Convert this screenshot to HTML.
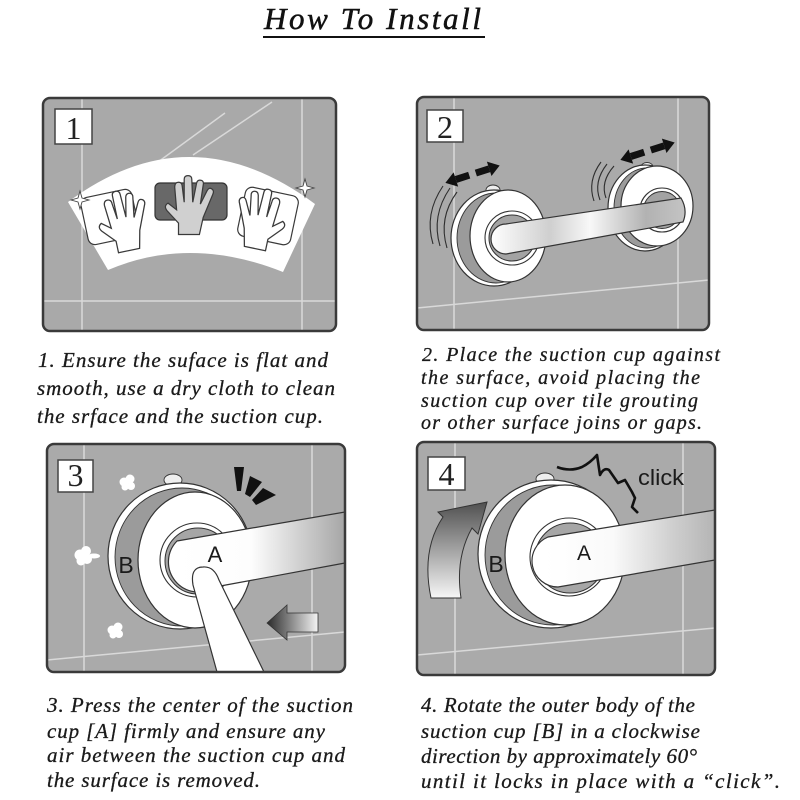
<!DOCTYPE html>
<html><head><meta charset="utf-8">
<style>
html,body{margin:0;padding:0;background:#fff;width:800px;height:800px;overflow:hidden}
svg{display:block}
.t{font-family:"Liberation Serif",serif;font-style:italic;font-size:21px;fill:#1a1a1a;stroke:#1a1a1a;stroke-width:0.3}
.t2{font-size:20px}
.n{font-family:"Liberation Serif",serif;font-size:32px;fill:#222;text-anchor:middle}
.s{font-family:"Liberation Sans",sans-serif;fill:#1a1a1a;text-anchor:middle}
</style></head><body>
<svg width="800" height="800" viewBox="0 0 800 800" xmlns="http://www.w3.org/2000/svg">
<defs>
<clipPath id="c1"><rect x="43" y="98" width="293" height="233" rx="7"/></clipPath>
<clipPath id="c2"><rect x="417" y="97" width="292" height="233" rx="7"/></clipPath>
<clipPath id="c3"><rect x="47" y="444" width="298" height="228" rx="7"/></clipPath>
<clipPath id="c4"><rect x="417" y="442" width="298" height="233" rx="7"/></clipPath>
<linearGradient id="g2" gradientUnits="userSpaceOnUse" x1="490" y1="0" x2="690" y2="0">
<stop offset="0" stop-color="#fff"/><stop offset=".3" stop-color="#cfcfcf"/><stop offset=".5" stop-color="#f8f8f8"/><stop offset=".78" stop-color="#b2b2b2"/><stop offset="1" stop-color="#c6c6c6"/></linearGradient>
<linearGradient id="g3" gradientUnits="userSpaceOnUse" x1="175" y1="0" x2="345" y2="0">
<stop offset="0" stop-color="#fff"/><stop offset=".45" stop-color="#fdfdfd"/><stop offset="1" stop-color="#a6a6a6"/></linearGradient>
<linearGradient id="g4" gradientUnits="userSpaceOnUse" x1="545" y1="0" x2="715" y2="0">
<stop offset="0" stop-color="#fff"/><stop offset=".4" stop-color="#fafafa"/><stop offset=".75" stop-color="#cfcfcf"/><stop offset="1" stop-color="#b4b4b4"/></linearGradient>
<linearGradient id="ga3" gradientUnits="userSpaceOnUse" x1="267" y1="0" x2="318" y2="0">
<stop offset="0" stop-color="#2a2a2a"/><stop offset="1" stop-color="#f4f4f4"/></linearGradient>
<linearGradient id="ga4" gradientUnits="userSpaceOnUse" x1="0" y1="502" x2="0" y2="598">
<stop offset="0" stop-color="#505050"/><stop offset="1" stop-color="#f6f6f6"/></linearGradient>
</defs>
<rect width="800" height="800" fill="#fff"/>

<!-- Title -->
<text x="264" y="29" font-family="Liberation Serif, serif" font-style="italic" font-size="31" fill="#111" stroke="#111" stroke-width="0.5" textLength="217" lengthAdjust="spacing">How To Install</text>
<line x1="263" y1="37" x2="485" y2="37" stroke="#111" stroke-width="2"/>

<!-- PANEL 1 -->
<g clip-path="url(#c1)">
<rect x="43" y="98" width="293" height="233" fill="#a9a9a9"/>
<g stroke="#d9d9d9" stroke-width="1.5">
<line x1="82" y1="98" x2="82" y2="331"/><line x1="302" y1="98" x2="302" y2="331"/>
<line x1="43" y1="301" x2="336" y2="301"/>
<line x1="158" y1="162" x2="225" y2="113"/><line x1="193" y1="155" x2="272" y2="102"/>
</g>
<path d="M68,202 Q190,111 315,204 L283,272 Q190,235 108,270 Z" fill="#fff"/>
<rect x="84" y="193" width="52" height="48" rx="7" fill="#fff" stroke="#3a3a3a" stroke-width="1.2" transform="rotate(-12 110 217)"/>
<path transform="translate(122,222) rotate(-12) scale(0.98)" fill="#fff" stroke="#3a3a3a" stroke-width="1.3" d="M-10,30 L-10,18 L-22,5 Q-26,0 -21,-3 L-12,4 L-14,-20 Q-14,-25 -10,-25 Q-6,-25 -6,-20 L-4,-4 L-4,-28 Q-4,-32 0,-32 Q4,-32 4,-28 L5,-4 L9,-24 Q10,-28 14,-27 Q17,-26 16,-22 L13,-2 L20,-16 Q22,-20 25,-18 Q28,-16 26,-12 L16,12 L12,30 Z"/>
<rect x="155" y="183" width="72" height="37" rx="5" fill="#686868" stroke="#333" stroke-width="1.2"/>
<path transform="translate(188,206) scale(0.95)" fill="#d0d0d0" stroke="#3a3a3a" stroke-width="1.3" d="M-10,30 L-10,18 L-22,5 Q-26,0 -21,-3 L-12,4 L-14,-20 Q-14,-25 -10,-25 Q-6,-25 -6,-20 L-4,-4 L-4,-28 Q-4,-32 0,-32 Q4,-32 4,-28 L5,-4 L9,-24 Q10,-28 14,-27 Q17,-26 16,-22 L13,-2 L20,-16 Q22,-20 25,-18 Q28,-16 26,-12 L16,12 L12,30 Z"/>
<rect x="241" y="191" width="54" height="50" rx="7" fill="#fff" stroke="#3a3a3a" stroke-width="1.2" transform="rotate(12 268 216)"/>
<path transform="translate(262,220) rotate(12) scale(-0.98,0.98)" fill="#fff" stroke="#3a3a3a" stroke-width="1.3" d="M-10,30 L-10,18 L-22,5 Q-26,0 -21,-3 L-12,4 L-14,-20 Q-14,-25 -10,-25 Q-6,-25 -6,-20 L-4,-4 L-4,-28 Q-4,-32 0,-32 Q4,-32 4,-28 L5,-4 L9,-24 Q10,-28 14,-27 Q17,-26 16,-22 L13,-2 L20,-16 Q22,-20 25,-18 Q28,-16 26,-12 L16,12 L12,30 Z"/>
<path transform="translate(80,200)" fill="#fff" stroke="#444" stroke-width="0.9" d="M0,-9 L2,-2 L9,0 L2,2 L0,9 L-2,2 L-9,0 L-2,-2 Z"/>
<path transform="translate(305,188)" fill="#fff" stroke="#444" stroke-width="0.9" d="M0,-9 L2,-2 L9,0 L2,2 L0,9 L-2,2 L-9,0 L-2,-2 Z"/>
</g>
<rect x="43" y="98" width="293" height="233" rx="7" fill="none" stroke="#3a3a3a" stroke-width="2.5"/>
<rect x="55" y="109" width="37" height="35" fill="#fff" stroke="#444" stroke-width="1.5"/>
<text class="n" x="73.5" y="139">1</text>

<!-- PANEL 2 -->
<g clip-path="url(#c2)">
<rect x="417" y="97" width="292" height="233" fill="#aaaaaa"/>
<g stroke="#d9d9d9" stroke-width="1.5">
<line x1="454" y1="97" x2="454" y2="330"/><line x1="678" y1="97" x2="678" y2="330"/>
<line x1="417" y1="308" x2="709" y2="280"/>
</g>
<g fill="none" stroke="#2e2e2e" stroke-width="1.1">
<path d="M447,248 Q438,218 457,192"/><path d="M440,246 Q431,216 450,188"/><path d="M433,244 Q424,214 443,186"/>
<path d="M606,198 Q600,182 614,166"/><path d="M600,200 Q593,182 607,164"/><path d="M594,201 Q587,181 601,162"/>
</g>
<ellipse cx="493" cy="190" rx="7" ry="5" fill="#eee" stroke="#333" stroke-width="0.9"/>
<ellipse cx="494" cy="238" rx="43" ry="48" fill="#fff" stroke="#333" stroke-width="1.2"/>
<ellipse cx="496" cy="238" rx="39" ry="45" fill="#9b9b9b" stroke="#333" stroke-width="0.9"/>
<ellipse cx="508" cy="236" rx="38" ry="46" fill="#fff" stroke="#333" stroke-width="1.2"/>
<circle cx="512" cy="238" r="27" fill="#fff" stroke="#333" stroke-width="1.1"/>
<circle cx="512" cy="238" r="23" fill="#a3a3a3" stroke="#333" stroke-width="1"/>
<ellipse cx="647" cy="167" rx="6" ry="4.5" fill="#eee" stroke="#333" stroke-width="0.9"/>
<ellipse cx="645" cy="208" rx="37" ry="43" fill="#fff" stroke="#333" stroke-width="1.2"/>
<ellipse cx="647" cy="208" rx="33" ry="40" fill="#9b9b9b" stroke="#333" stroke-width="0.9"/>
<ellipse cx="657" cy="206" rx="36" ry="40" fill="#fff" stroke="#333" stroke-width="1.2"/>
<circle cx="662" cy="210" r="22" fill="#fff" stroke="#333" stroke-width="1.1"/>
<circle cx="662" cy="210" r="18.5" fill="#a3a3a3" stroke="#333" stroke-width="1"/>
<path d="M506,224 L681,198 Q688,210 683,222 L506,254 A15,15 0 0 1 506,224 Z" fill="url(#g2)" stroke="#333" stroke-width="1.2"/>
<g transform="translate(473,174) rotate(-17.8)" fill="#111">
<polygon points="-29,0 -18,-7.5 -18,7.5"/><rect x="-18" y="-3.5" width="14" height="7"/>
<rect x="3" y="-3.5" width="14" height="7"/><polygon points="17,-7.5 28,0 17,7.5"/>
</g>
<g transform="translate(648,151) rotate(-17.8)" fill="#111">
<polygon points="-29,0 -18,-7.5 -18,7.5"/><rect x="-18" y="-3.5" width="14" height="7"/>
<rect x="3" y="-3.5" width="14" height="7"/><polygon points="17,-7.5 28,0 17,7.5"/>
</g>
</g>
<rect x="417" y="97" width="292" height="233" rx="7" fill="none" stroke="#3a3a3a" stroke-width="2.5"/>
<rect x="427" y="110" width="36" height="32" fill="#fff" stroke="#444" stroke-width="1.5"/>
<text class="n" x="445" y="138">2</text>

<!-- PANEL 3 -->
<g clip-path="url(#c3)">
<rect x="47" y="444" width="298" height="228" fill="#aaaaaa"/>
<g stroke="#d9d9d9" stroke-width="1.5">
<line x1="84" y1="444" x2="84" y2="672"/><line x1="312" y1="444" x2="312" y2="672"/>
<line x1="47" y1="660" x2="345" y2="632"/>
</g>
<g fill="#fff">
<g transform="translate(127,482)"><circle cx="-3" cy="0" r="4.5"/><circle cx="3" cy="-3" r="4.5"/><circle cx="4" cy="4" r="4"/><circle cx="-2" cy="5" r="3.5"/></g>
<g transform="translate(83,555)"><circle cx="-3" cy="0" r="5.5"/><circle cx="3" cy="-4" r="5"/><circle cx="4" cy="4" r="5"/><circle cx="-2" cy="6" r="4.5"/><ellipse cx="11" cy="1" rx="6" ry="2.5"/></g>
<g transform="translate(115,630)"><circle cx="-3" cy="0" r="4.5"/><circle cx="3" cy="-3" r="4.5"/><circle cx="4" cy="4" r="4"/><circle cx="-2" cy="5" r="3.5"/></g>
</g>
<g fill="#111">
<polygon points="234,467 244,467 241,491 237,491"/>
<polygon points="250,476 262,482 250,497 245,494"/>
<polygon points="263,488 276,495 256,505 252,500"/>
</g>
<ellipse cx="173" cy="480" rx="9" ry="6" fill="#eee" stroke="#333" stroke-width="0.9"/>
<ellipse cx="180" cy="556" rx="72" ry="73" fill="#fff" stroke="#333" stroke-width="1.2"/>
<ellipse cx="182" cy="557" rx="67" ry="69" fill="#9b9b9b" stroke="#333" stroke-width="0.9"/>
<ellipse cx="195" cy="560" rx="57" ry="68" fill="#fff" stroke="#333" stroke-width="1.2"/>
<circle cx="197" cy="560" r="37" fill="#fff" stroke="#333" stroke-width="1.1"/>
<circle cx="198" cy="561" r="33" fill="#a6a6a6" stroke="#333" stroke-width="1"/>
<path d="M177,541 L345,512 L345,563 L215,587 A30,30 0 0 1 177,541 Z" fill="url(#g3)" stroke="#333" stroke-width="1.2"/>
<text class="s" x="215" y="562" font-size="22">A</text>
<text class="s" x="126" y="573" font-size="23">B</text>
<path d="M217,672 L193,585 Q190,567 203,567 Q214,566 219,580 L264,672 Z" fill="#fff" stroke="#333" stroke-width="1.2"/>
<path d="M267,623 L287,605 L287,613 L318,613 L318,632 L287,632 L287,640 Z" fill="url(#ga3)" stroke="#333" stroke-width="0.8"/>
</g>
<rect x="47" y="444" width="298" height="228" rx="7" fill="none" stroke="#3a3a3a" stroke-width="2.5"/>
<rect x="58" y="460" width="35" height="32" fill="#fff" stroke="#444" stroke-width="1.5"/>
<text class="n" x="75.5" y="486">3</text>

<!-- PANEL 4 -->
<g clip-path="url(#c4)">
<rect x="417" y="442" width="298" height="233" fill="#aaaaaa"/>
<g stroke="#d9d9d9" stroke-width="1.5">
<line x1="455" y1="442" x2="455" y2="675"/><line x1="683" y1="442" x2="683" y2="675"/>
<line x1="417" y1="655" x2="715" y2="628"/>
</g>
<path d="M431,598 Q421,550 443,517 L438,512 L487,502 L478,534 L472,528 Q455,558 461,598 Z" fill="url(#ga4)" stroke="#333" stroke-width="1"/>
<ellipse cx="545" cy="479" rx="9" ry="6" fill="#eee" stroke="#333" stroke-width="0.9"/>
<ellipse cx="551" cy="554" rx="73" ry="74" fill="#fff" stroke="#333" stroke-width="1.2"/>
<ellipse cx="553" cy="555" rx="68" ry="70" fill="#9b9b9b" stroke="#333" stroke-width="0.9"/>
<ellipse cx="565" cy="555" rx="60" ry="70" fill="#fff" stroke="#333" stroke-width="1.2"/>
<circle cx="569" cy="557" r="39" fill="#fff" stroke="#333" stroke-width="1.1"/>
<circle cx="570" cy="558" r="35" fill="#a6a6a6" stroke="#333" stroke-width="1"/>
<path d="M548,537 L715,510 L715,560 L558,587 A26,26 0 0 1 548,537 Z" fill="url(#g4)" stroke="#333" stroke-width="1.2"/>
<text class="s" x="584" y="560" font-size="21">A</text>
<text class="s" x="496" y="572" font-size="23">B</text>
<path d="M557,467 Q570,472 582,467 Q590,463 597,455 L600,475 Q604,467 609,470 L618,483 L625,480 L632,492 L635,498 L632,507 L638,513" fill="none" stroke="#111" stroke-width="2.6" stroke-linejoin="round"/>
<text class="s" x="661" y="485" font-size="22" textLength="46" lengthAdjust="spacingAndGlyphs">click</text>
</g>
<rect x="417" y="442" width="298" height="233" rx="7" fill="none" stroke="#3a3a3a" stroke-width="2.5"/>
<rect x="428" y="457" width="37" height="33" fill="#fff" stroke="#444" stroke-width="1.5"/>
<text class="n" x="446.5" y="485">4</text>

<!-- Captions -->
<text class="t" x="38" y="367" textLength="290" lengthAdjust="spacing">1. Ensure the suface is flat and</text>
<text class="t" x="37" y="395" textLength="298" lengthAdjust="spacing">smooth, use a dry cloth to clean</text>
<text class="t" x="37" y="423" textLength="286" lengthAdjust="spacing">the srface and the suction cup.</text>

<text class="t t2" x="422" y="361" textLength="298" lengthAdjust="spacing">2. Place the suction cup against</text>
<text class="t t2" x="421" y="384" textLength="279" lengthAdjust="spacing">the surface, avoid placing the</text>
<text class="t t2" x="421" y="407" textLength="277" lengthAdjust="spacing">suction cup over tile grouting</text>
<text class="t t2" x="421" y="429" textLength="281" lengthAdjust="spacing">or other surface joins or gaps.</text>

<text class="t" x="47" y="712" textLength="306" lengthAdjust="spacing">3. Press the center of the suction</text>
<text class="t" x="47" y="738" textLength="278" lengthAdjust="spacing">cup [A] firmly and ensure any</text>
<text class="t" x="47" y="762" textLength="298" lengthAdjust="spacing">air between the suction cup and</text>
<text class="t" x="47" y="787" textLength="213" lengthAdjust="spacing">the surface is removed.</text>

<text class="t" x="421" y="712" textLength="274" lengthAdjust="spacing">4. Rotate the outer body of the</text>
<text class="t" x="421" y="738" textLength="279" lengthAdjust="spacing">suction cup [B] in a clockwise</text>
<text class="t" x="421" y="763" textLength="276" lengthAdjust="spacing">direction by approximately 60°</text>
<text class="t" x="421" y="788" textLength="359" lengthAdjust="spacing">until it locks in place with a “click”.</text>
</svg>
</body></html>
